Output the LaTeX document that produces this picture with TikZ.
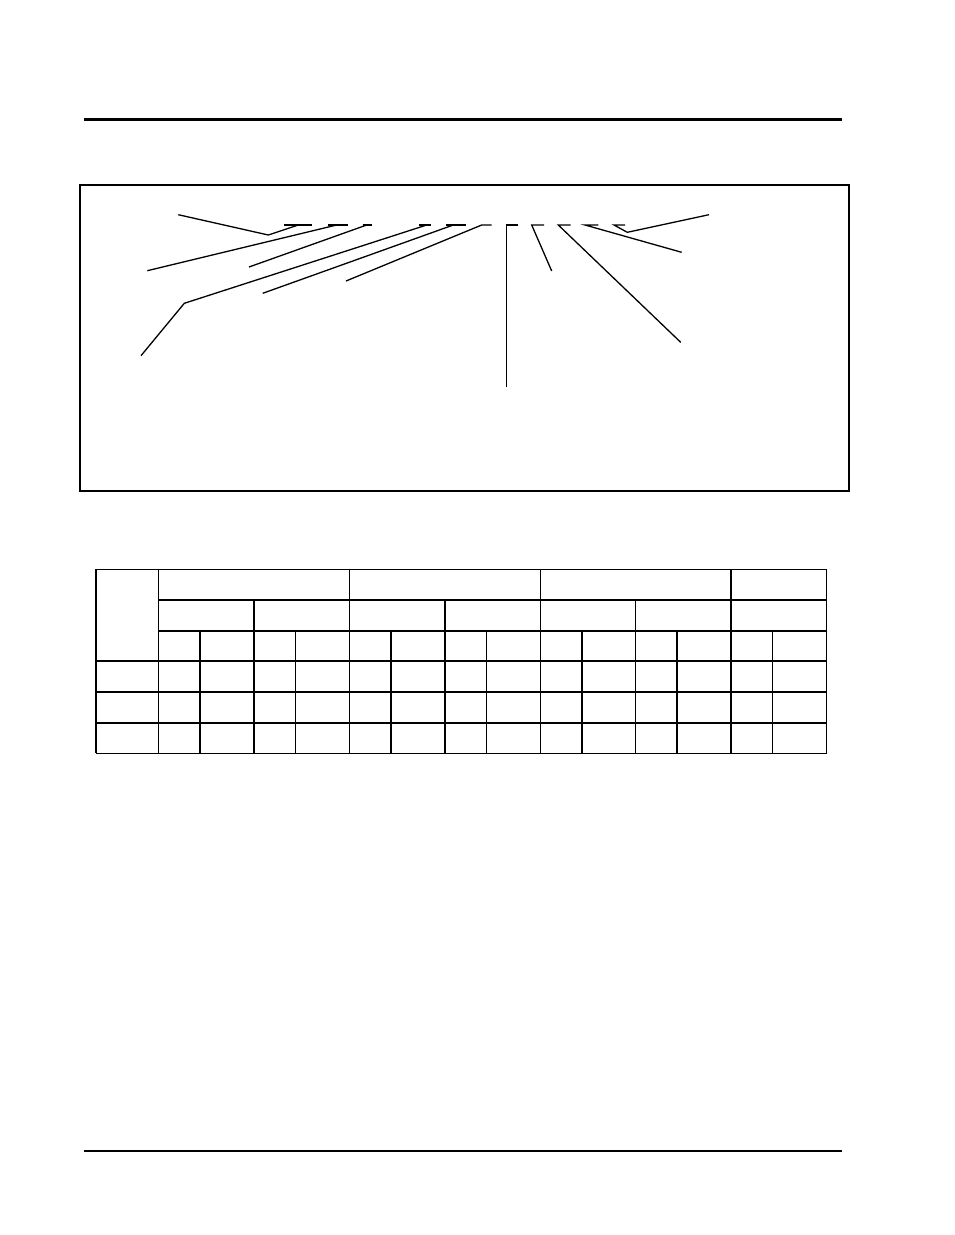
\documentclass[tikz,border=0pt]{standalone}
\begin{document}
\begin{tikzpicture}[x=1pt,y=-1pt,
  rule/.style={line width=3pt},
  frame/.style={line width=1.4pt},
  leader/.style={line width=1.3pt},
  thin/.style={line width=1.1pt},
  thick/.style={line width=2pt}]
\useasboundingbox (0,0) rectangle (954,1235);
% page rules
\draw[rule] (84,119) -- (842,119);
\draw[line width=2.4pt] (84,1151) -- (842,1151);
% frame
\draw[frame] (80,185) rectangle (849,491);
% callout leaders
\coordinate (a1) at (178.3,214.7); \coordinate (a2) at (268.3,235); \coordinate (a3) at (298.3,225);
\draw[leader] (a1) -- (a2) -- (a3); \draw[leader] (284,225) -- (312.3,225);
\coordinate (b1) at (147.3,270.7); \coordinate (b2) at (336.7,225);
\draw[leader] (b1) -- (b2); \draw[leader] (328.3,225) -- (347.7,225);
\coordinate (c1) at (249,267); \coordinate (c2) at (366.7,225);
\draw[leader] (c1) -- (c2); \draw[leader] (362.7,225) -- (372,225);
\coordinate (d1) at (141,355.7); \coordinate (d2) at (184.3,303.3); \coordinate (d3) at (426.7,225);
\draw[leader] (d1) -- (d2) -- (d3); \draw[leader] (419.3,225) -- (430.7,225);
\coordinate (e1) at (262.7,293.3); \coordinate (e2) at (453.3,225);
\draw[leader] (e1) -- (e2); \draw[leader] (446,225) -- (465.7,225);
\coordinate (f1) at (346,281); \coordinate (f2) at (481.7,225);
\draw[leader] (f1) -- (f2) -- (491.7,225);
\coordinate (g1) at (506.7,387.3); \coordinate (g2) at (506.7,225);
\draw[leader] (g1) -- (g2) -- (518.3,225);
\coordinate (h1) at (551.7,271); \coordinate (h2) at (531.7,225);
\draw[leader] (h1) -- (h2) -- (544,225);
\coordinate (i1) at (680.7,342.3); \coordinate (i2) at (558.3,225);
\draw[leader] (i1) -- (i2) -- (570.7,225);
\coordinate (j1) at (681.7,252.3); \coordinate (j2) at (585,225);
\draw[leader] (j1) -- (j2) -- (598.3,225);
\coordinate (k1) at (709,214.7); \coordinate (k2) at (627.3,232.3); \coordinate (k3) at (614,225);
\draw[leader] (k1) -- (k2) -- (k3) -- (625,225);
% table
\def\L{96} \def\R{826.7}
\def\ya{569.3} \def\yb{600} \def\yc{630.7} \def\yd{661} \def\ye{691.7} \def\yf{722.7} \def\yg{753.3}
% horizontals
\draw[thin] (\L,\ya) -- (\R,\ya);
\draw[thick] (158.3,\yb) -- (\R,\yb);
\draw[thick] (158.3,\yc) -- (\R,\yc);
\draw[thin] (\L,\yd) -- (\R,\yd);
\draw[thick] (\L,\ye) -- (\R,\ye);
\draw[thick] (\L,\yf) -- (\R,\yf);
\draw[thin] (\L,\yg) -- (\R,\yg);
% verticals full height
\foreach \x in {96,158.3,349.3,540.3,826.7} \draw[thin] (\x,\ya) -- (\x,\yg);
\draw[thick] (731,\ya) -- (731,\yg);
% verticals from row 2
\draw[thick] (254,\yb) -- (254,\yg);
\draw[thick] (445.3,\yb) -- (445.3,\yg);
\draw[thin] (635.3,\yb) -- (635.3,\yg);
% verticals from row 3
\foreach \x in {200,391,582.3,677} \draw[thick] (\x,\yc) -- (\x,\yg);
\foreach \x in {295.7,486.3,772.7} \draw[thin] (\x,\yc) -- (\x,\yg);
\end{tikzpicture}
\end{document}
